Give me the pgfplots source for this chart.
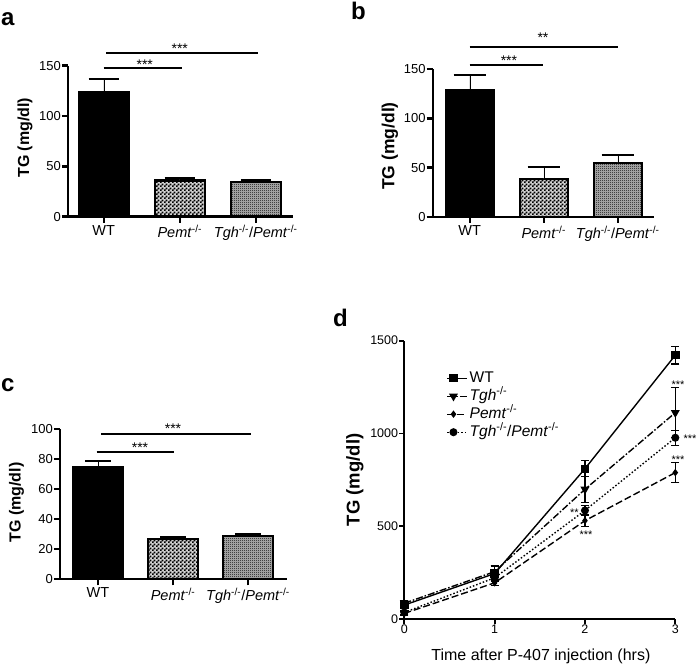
\documentclass[border=0pt]{standalone}
\usepackage{pgfplots}
\pgfplotsset{compat=1.18}
\usepackage{fontspec}
\setmainfont{Liberation Sans}
\usetikzlibrary{patterns}

% checker fills of the two knockout bars
\pgfdeclarepatternformonly{checkbig}{\pgfpointorigin}{\pgfqpoint{4pt}{4pt}}{\pgfqpoint{4pt}{4pt}}{%
  \pgfpathrectangle{\pgfpointorigin}{\pgfqpoint{2.1pt}{2.1pt}}%
  \pgfpathrectangle{\pgfqpoint{2pt}{2pt}}{\pgfqpoint{2.1pt}{2.1pt}}%
  \pgfusepath{fill}}
\pgfdeclarepatternformonly{checksmall}{\pgfpointorigin}{\pgfqpoint{2pt}{2pt}}{\pgfqpoint{2pt}{2pt}}{%
  \pgfpathrectangle{\pgfpointorigin}{\pgfqpoint{1pt}{1pt}}%
  \pgfpathrectangle{\pgfqpoint{1pt}{1pt}}{\pgfqpoint{1pt}{1pt}}%
  \pgfusepath{fill}}

\newcommand{\fs}[1]{\fontsize{#1}{#1}\selectfont}
\newcommand{\ko}{\textsuperscript{-/-}}

\tikzset{
  sig/.style={line width=2pt},
  stars/.style={font=\fs{14}, anchor=base, inner sep=0pt},
  dstars/.style={font=\fs{11}, anchor=base, inner sep=0pt},
}

\pgfplotsset{
  /pgf/number format/assume math mode=true,
  /pgf/number format/1000 sep={},
  barpanel/.style={
    scale only axis, anchor=south west, clip=false,
    axis lines=left, axis line style={-, line width=2.4pt},
    tick align=outside, major tick length=6pt,
    major tick style={line width=2.4pt, black},
    xtick={0,1,2},
    xticklabels={WT, \textit{Pemt}\ko, \textit{Tgh}\ko/\textit{Pemt}\ko},
    xticklabel style={font=\fs{14.5}, inner sep=1pt, yshift=-1.5pt},
    yticklabel style={font=\fs{13}, inner sep=1pt},
    ymin=0, ylabel={TG (mg/dl)},
  },
  wt/.style={ybar, bar shift=0pt, draw=black, fill=black, line width=2.4pt,
    error bars/.cd, y dir=plus, y explicit},
  ko1/.style={ybar, bar shift=0pt, draw=black, fill=black!18, postaction={pattern=checkbig},
    line width=2.4pt, error bars/.cd, y dir=plus, y explicit},
  ko2/.style={ybar, bar shift=0pt, draw=black, fill=black!28, postaction={pattern=checksmall},
    line width=2.4pt, error bars/.cd, y dir=plus, y explicit},
}

\begin{document}
\begin{tikzpicture}
\useasboundingbox (0,0) rectangle (697pt,667pt);

\node[font=\bfseries\fs{24}, anchor=base west, inner sep=0pt] at (1pt,641pt) {a};
\node[font=\bfseries\fs{24}, anchor=base west, inner sep=0pt] at (351pt,647pt) {b};
\node[font=\bfseries\fs{24}, anchor=base west, inner sep=0pt] at (1pt,275pt) {c};
\node[font=\bfseries\fs{24}, anchor=base west, inner sep=0pt] at (333pt,340pt) {d};

% panel a
\begin{axis}[barpanel, at={(68pt,450.3pt)}, width=225pt, height=151pt,
  xmin=-0.47, xmax=2.49, ymax=150, ytick={0,50,100,150}, bar width=50pt,
  ylabel style={font=\bfseries\fs{16}, at={(axis description cs:-0.191,0.523)}, anchor=center},
  error bars/error mark options={rotate=90, mark size=15pt, line width=2.2pt}]
\addplot[wt] coordinates {(0,124) +- (0,13)};
\addplot[ko1] coordinates {(1,36) +- (0,2.6)};
\addplot[ko2] coordinates {(2,34.5) +- (0,1.5)};
\draw[sig] (axis cs:0,147.4) -- (axis cs:1.03,147.4);
\draw[sig] (axis cs:0.03,162.7) -- (axis cs:2.03,162.7);
\node[stars] at (axis cs:0.54,146.2) {***};
\node[stars] at (axis cs:1.0,162.6) {***};
\end{axis}

% panel b
\begin{axis}[barpanel, at={(432.7pt,450pt)}, width=221.3pt, height=148pt,
  xmin=-0.5, xmax=2.49, ymax=150, ytick={0,50,100,150}, bar width=48pt,
  ylabel style={font=\bfseries\fs{17.5}, at={(axis description cs:-0.193,0.48)}, anchor=center},
  error bars/error mark options={rotate=90, mark size=16pt, line width=2.2pt}]
\addplot[wt] coordinates {(0,128.5) +- (0,15.5)};
\addplot[ko1] coordinates {(1,38.5) +- (0,12)};
\addplot[ko2] coordinates {(2,54.5) +- (0,8.5)};
\draw[sig] (axis cs:0,153.7) -- (axis cs:0.99,153.7);
\draw[sig] (axis cs:0,172.5) -- (axis cs:2.0,172.5);
\node[stars] at (axis cs:0.53,153.5) {***};
\node[stars] at (axis cs:0.99,176.8) {**};
\end{axis}

% panel c
\begin{axis}[barpanel, at={(60pt,87.7pt)}, width=227pt, height=150pt,
  xmin=-0.507, xmax=2.52, ymax=100, ytick={0,20,40,60,80,100}, bar width=50pt,
  ylabel style={font=\bfseries\fs{16}, at={(axis description cs:-0.192,0.512)}, anchor=center},
  error bars/error mark options={rotate=90, mark size=13pt, line width=2.2pt}]
\addplot[wt] coordinates {(0,75) +- (0,4)};
\addplot[ko1] coordinates {(1,27) +- (0,1)};
\addplot[ko2] coordinates {(2,29) +- (0,1)};
\draw[sig] (axis cs:-0.02,84.7) -- (axis cs:1.01,84.7);
\draw[sig] (axis cs:0.04,96.7) -- (axis cs:2.04,96.7);
\node[stars] at (axis cs:0.56,84.2) {***};
\node[stars] at (axis cs:1.0,96.9) {***};
\end{axis}

% panel d
\begin{axis}[scale only axis, anchor=south west, clip=false,
  at={(404.3pt,48pt)}, width=271pt, height=278.3pt,
  xmin=0, xmax=3, ymin=0, ymax=1500,
  axis lines=left, axis line style={-, line width=1.8pt},
  tick align=outside, major tick length=5pt,
  major tick style={line width=1.8pt, black},
  xtick={0,1,2,3}, ytick={0,500,1000,1500},
  ticklabel style={font=\fs{12.5}, inner sep=1pt},
  xlabel={Time after P-407 injection (hrs)},
  xlabel style={font=\fs{16}, at={(axis description cs:0.504,-0.135)}, anchor=center},
  ylabel={TG (mg/dl)},
  ylabel style={font=\bfseries\fs{18.5}, at={(axis description cs:-0.182,0.5)}, anchor=center},
  every axis plot/.append style={line width=1.4pt, black},
  error bars/error mark options={rotate=90, mark size=4pt, line width=1.3pt, solid},
  error bars/error bar style={line width=1.3pt, solid},
  legend style={draw=none, fill=none, at={(axis description cs:0.156,0.8965)},
    anchor=north west, font=\fs{15.5},
    nodes={font=\fs{15.5}, inner sep=1.5pt, text height=11pt, text depth=3pt},
    row sep=1pt, inner sep=0pt, cells={anchor=west}},
  legend image code/.code={\draw[mark repeat=2,mark phase=2,#1]
    plot coordinates {(0pt,0pt)(6pt,0pt)(12pt,0pt)};
    \path (0pt,0pt) -- (20pt,0pt);},
]
\addplot[solid, mark=square*, mark size=3.5pt, mark options={solid},
  error bars/.cd, y dir=both, y explicit]
  coordinates {(0,75) +- (0,15) (1,245) +- (0,40) (2,810) +- (0,43) (3,1422) +- (0,48)};
\addlegendentry{WT}
\addplot[dash pattern=on 7pt off 2pt on 1.5pt off 2pt, mark=triangle*, mark size=3.8pt,
  mark options={solid, rotate=180},
  error bars/.cd, y dir=both, y explicit]
  coordinates {(0,85) +- (0,15) (1,255) +- (0,30) (2,699) +- (0,70) (3,1112) +- (0,135)};
\addlegendentry{\textit{Tgh}\ko}
\addplot[dash pattern=on 7pt off 3pt, mark=diamond*, mark size=2.6pt, mark options={solid},
  error bars/.cd, y dir=both, y explicit]
  coordinates {(0,30) +- (0,10) (1,195) +- (0,15) (2,530) +- (0,30) (3,789) +- (0,54)};
\addlegendentry{\textit{Pemt}\ko}
\addplot[dash pattern=on 1.5pt off 2pt, mark=*, mark size=3.3pt, mark options={solid},
  error bars/.cd, y dir=both, y explicit]
  coordinates {(0,35) +- (0,10) (1,222) +- (0,20) (2,585) +- (0,25) (3,977) +- (0,40)};
\addlegendentry{\textit{Tgh}\ko/\textit{Pemt}\ko}
\node[dstars] at (axis cs:3.03,1245) {***};
\node[dstars] at (axis cs:3.163,952) {***};
\node[dstars] at (axis cs:3.03,839) {***};
\node[dstars] at (axis cs:1.884,553) {**};
\node[dstars] at (axis cs:2.011,434) {***};
\end{axis}
\end{tikzpicture}
\end{document}
